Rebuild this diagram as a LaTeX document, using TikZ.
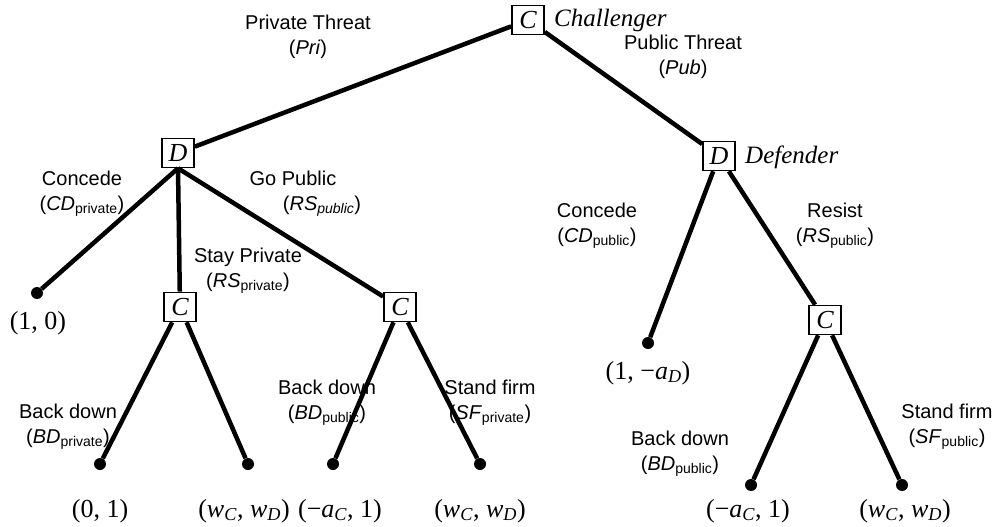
\documentclass[tikz,border=0pt]{standalone}
\usepackage{fontspec}
\setmainfont{Liberation Serif}
\setsansfont{Liberation Sans}
\newcommand\subtxt[1]{\textsubscript{#1}}
\newcommand\payW{(\textit{w}\subtxt{\textit{C}}, \textit{w}\subtxt{\textit{D}})}
\newcommand\payA{(\textminus\textit{a}\subtxt{\textit{C}}, 1)}
\begin{document}
\begin{tikzpicture}[x=1pt,y=-1pt,
  move/.style={line width=4.5pt},
  player/.style={draw, line width=1.6pt, fill=white, minimum width=32pt,
    minimum height=29pt, inner sep=0pt, font=\fontsize{26}{26}\selectfont\itshape},
  leaf/.style={circle, fill=black, minimum size=12pt, inner sep=0pt},
  pay/.style={font=\fontsize{26}{28}\selectfont, inner sep=0pt},
  act/.style={font=\fontsize{20}{25}\selectfont\sffamily, align=center, inner sep=0pt},
  role/.style={font=\fontsize{25}{28}\selectfont\itshape, anchor=west, inner sep=0pt}]
\useasboundingbox (0,0) rectangle (1002,527);

% decision nodes
\node[player] (root) at (528,20) {C};
\node[player] (dl) at (178,153) {D};
\node[player] (dr) at (719,156) {D};
\node[player] (cs) at (180,307) {C};
\node[player] (cg) at (400,307) {C};
\node[player] (cr) at (825,320) {C};

% terminal nodes
\node[leaf] (t1) at (37,293) {};
\node[leaf] (t2) at (100,464) {};
\node[leaf] (t3) at (248,464) {};
\node[leaf] (t4) at (333,464) {};
\node[leaf] (t5) at (480,464) {};
\node[leaf] (t6) at (648,343) {};
\node[leaf] (t7) at (751,485) {};
\node[leaf] (t8) at (902,485) {};

% moves
\draw[move] (root) -- (dl);
\draw[move] (root) -- (dr);
\draw[move] (dl.south) -- (t1);
\draw[move] (dl.south) -- (cs);
\draw[move] (dl.south) -- (cg);
\draw[move] (dr) -- (t6);
\draw[move] (dr) -- (cr);
\draw[move] (cs) -- (t2);
\draw[move] (cs) -- (t3);
\draw[move] (cg) -- (t4);
\draw[move] (cg) -- (t5);
\draw[move] (cr) -- (t7);
\draw[move] (cr) -- (t8);

% player names
\node[role] (chal) at (554,20) {Challenger};
\node[role] (defe) at (745,157) {Defender};

% payoffs
\node[pay] (p1) at (38,323) {(1, 0)};
\node[pay] (p2) at (100,511) {(0, 1)};
\node[pay] (p3) at (244,511) {\payW};
\node[pay] (p4) at (340,511) {\payA};
\node[pay] (p5) at (480,511) {\payW};
\node[pay] (p6) at (648,373) {(1, \textminus\textit{a}\subtxt{\textit{D}})};
\node[pay] (p7) at (748,511) {\payA};
\node[pay] (p8) at (905,511) {\payW};

% action labels
\node[act] (lpri) at (308,37) {Private Threat\\(\textit{Pri})};
\node[act] (lpub) at (683,57) {Public Threat\\(\textit{Pub})};
\node[act] (lcdp) at (82,194) {Concede\\(\textit{CD}\subtxt{private})};
\node[act] (lgop) at (293,194) {Go Public\\\hspace*{58pt}(\textit{RS}\subtxt{\textit{public}})};
\node[act] (lsty) at (248,271) {Stay Private\\(\textit{RS}\subtxt{private})};
\node[act] (lcdu) at (597,226) {Concede\\(\textit{CD}\subtxt{public})};
\node[act] (lres) at (835,226) {Resist\\(\textit{RS}\subtxt{public})};
\node[act] (lbd1) at (68,427) {Back down\\(\textit{BD}\subtxt{private})};
\node[act] (lbd2) at (327,403) {Back down\\(\textit{BD}\subtxt{public})};
\node[act] (lsf1) at (490,403) {Stand firm\\(\textit{SF}\subtxt{private})};
\node[act] (lbd3) at (680,454) {Back down\\(\textit{BD}\subtxt{public})};
\node[act] (lsf2) at (947,427) {Stand firm\\(\textit{SF}\subtxt{public})};
\end{tikzpicture}
\end{document}
